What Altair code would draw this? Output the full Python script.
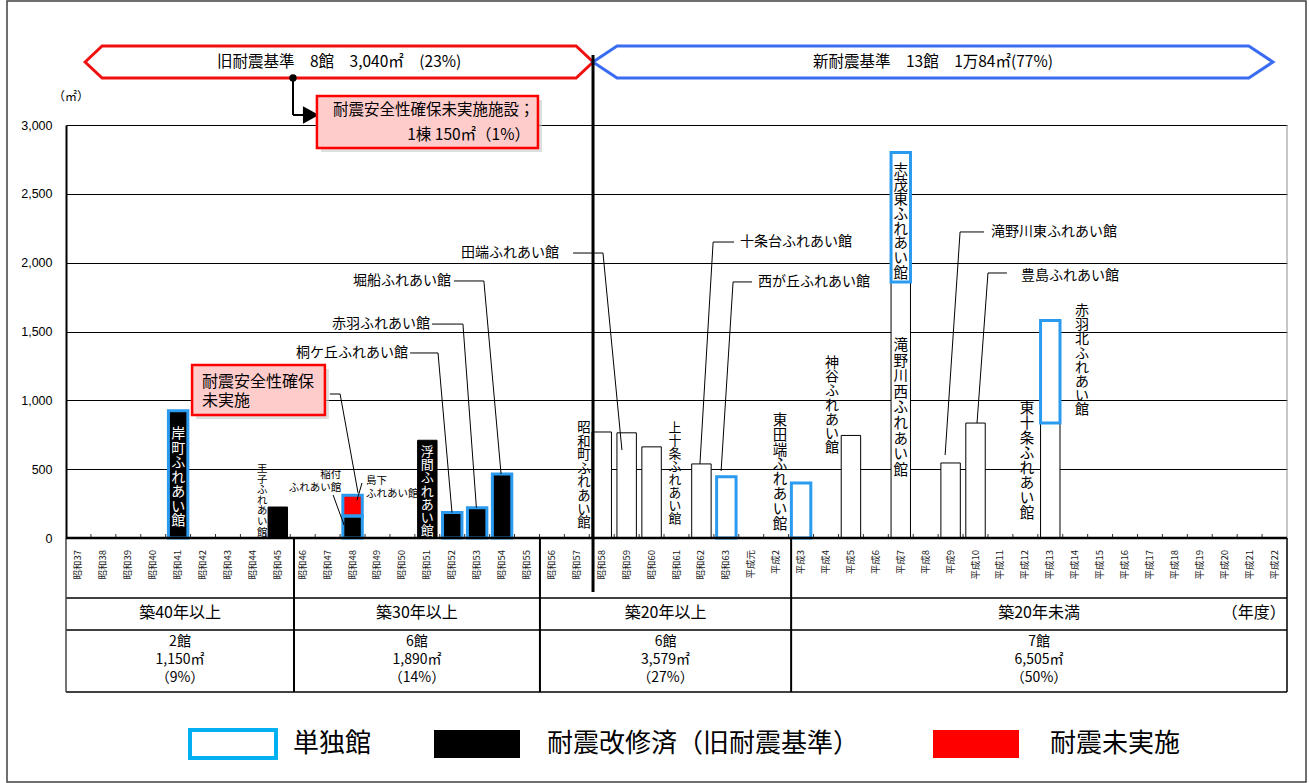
import altair as alt
import pandas as pd

# ---- data -------------------------------------------------------------------
# fiscal years along the x axis
years = [f"昭和{n}" for n in range(37, 64)] + ["平成元"] + [f"平成{n}" for n in range(2, 23)]

# ふれあい館: name, year built, floor area (㎡), seismic status, stand-alone building, age band
names = ["岸町", "王子", "稲付", "島下", "浮間", "桐ケ丘", "赤羽", "堀船",
         "昭和町", "田端", "上十条", "十条台", "西が丘", "東田端",
         "神谷", "滝野川西", "志茂東", "滝野川東", "豊島", "東十条", "赤羽北"]
built = ["昭和41", "昭和45", "昭和48", "昭和48", "昭和51", "昭和52", "昭和53", "昭和54",
         "昭和58", "昭和59", "昭和60", "昭和62", "昭和63", "平成3",
         "平成5", "平成7", "平成7", "平成9", "平成10", "平成13", "平成13"]
area = [925, 225, 160, 150, 710, 185, 220, 465,
        770, 764, 662, 538, 445, 400,
        745, 1860, 940, 545, 835, 835, 745]
status = ["改修済", "改修済", "改修済", "未実施", "改修済", "改修済", "改修済", "改修済",
          "新耐震", "新耐震", "新耐震", "新耐震", "新耐震", "新耐震",
          "新耐震", "新耐震", "新耐震", "新耐震", "新耐震", "新耐震", "新耐震"]
standalone = [True, False, True, True, False, True, True, True,
              False, False, False, False, True, True,
              False, False, True, False, False, False, True]
age_group = ["築40年以上"] * 2 + ["築30年以上"] * 6 + ["築20年以上"] * 6 + ["築20年未満"] * 7

groups = ["築40年以上", "築30年以上", "築20年以上", "築20年未満"]
y_ticks = [0, 500, 1000, 1500, 2000, 2500, 3000]
legend_labels = ["単独館", "耐震改修済（旧耐震基準）", "耐震未実施"]

# ---- layout / style ---------------------------------------------------------
W, H = 1221, 413
FONT = "Noto Sans CJK JP"
BLUE = "#2B9BF0"
LEGEND_BLUE = "#00B0F0"
RED = "#FF0000"
PINK = "#FFCCCC"
SHADOW = "#C8C8C8"

xs = alt.Scale(domain=[0, len(years)], nice=False, zero=False)
ys = alt.Scale(domain=[0, 3000], nice=False)
yaxis = alt.Axis(values=y_ticks, labelExpr="format(datum.value, ',')", title=None,
                 ticks=False, grid=True, gridColor="black", gridWidth=1,
                 domainColor="black", domainWidth=2,
                 labelFont="Liberation Sans", labelFontSize=12.5, labelColor="black",
                 labelPadding=14)

one = pd.DataFrame({"k": [0]})


def XD(v):
    return alt.XDatum(v, scale=xs, axis=None)


def YD(v):
    return alt.YDatum(v, scale=ys, axis=yaxis)


def pin():
    return alt.Chart(one)


layers = []

# ---- bars -------------------------------------------------------------------
fac = pd.DataFrame({"name": names, "year": built, "area": area, "status": status,
                    "alone": standalone, "group": age_group})
fac["pos"] = fac["year"].map(lambda y: years.index(y) + 0.5)
fac["top"] = fac.groupby("year")["area"].cumsum()
fac["base"] = fac["top"] - fac["area"]
fac["left"] = fac["pos"] - 0.39
fac["right"] = fac["pos"] + 0.39

status_domain = ["改修済", "未実施", "新耐震"]
bar_enc = dict(
    x=alt.X("left:Q", scale=xs, axis=None),
    x2="right:Q",
    y=alt.Y("base:Q", scale=ys, axis=yaxis),
    y2="top:Q",
)
layers.append(
    alt.Chart(fac).mark_rect(strokeWidth=1).encode(
        fill=alt.Fill("status:N", scale=alt.Scale(domain=status_domain,
                                                  range=["#000000", RED, "#FFFFFF"]), legend=None),
        stroke=alt.Stroke("status:N", scale=alt.Scale(domain=status_domain,
                                                      range=["#000000", RED, "#000000"]), legend=None),
        **bar_enc,
    )
)
# stand-alone buildings get a blue outline
layers.append(
    alt.Chart(fac[fac["alone"]]).mark_rect(fillOpacity=0, stroke=BLUE, strokeWidth=3).encode(**bar_enc)
)

# ---- x axis line, category ticks and year labels ----------------------------
bounds = pd.DataFrame({"b": list(range(1, len(years)))})
layers.append(
    alt.Chart(bounds).mark_rule(color="#333333", strokeWidth=1).encode(
        x=alt.X("b:Q", scale=xs, axis=None), y=alt.value(H - 4), y2=alt.value(H))
)
yl = pd.DataFrame({"year": years, "pos": [i + 0.5 for i in range(len(years))]})
layers.append(
    alt.Chart(yl).mark_text(angle=270, align="right", baseline="middle", fontSize=9.5,
                            font=FONT, color="#222222").encode(
        x=alt.X("pos:Q", scale=xs, axis=None), y=alt.value(H + 12), text="year:N")
)

# ---- table below the plot ---------------------------------------------------
dividers = [0, 9.15, 19.02, 29.1, len(years)]
for yy in [H + 60, H + 92, H + 154]:
    layers.append(pin().mark_rule(color="black", strokeWidth=1.5).encode(
        x=XD(0), x2=alt.X2Datum(len(years)), y=alt.value(yy)))
for d in dividers[1:-1]:
    layers.append(pin().mark_rule(color="black", strokeWidth=2).encode(
        x=XD(d), y=alt.value(H), y2=alt.value(H + 154)))
layers.append(pin().mark_rule(color="#444444", strokeWidth=1.5).encode(
    x=XD(0), y=alt.value(H), y2=alt.value(H + 154)))
layers.append(pin().mark_rule(color="#909090", strokeWidth=1).encode(
    x=XD(len(years)), y=alt.value(0), y2=alt.value(H)))
layers.append(pin().mark_rule(color="black", strokeWidth=1.5).encode(
    x=XD(len(years)), y=alt.value(H), y2=alt.value(H + 154)))
layers.append(pin().mark_rule(color="black", strokeWidth=2.5).encode(
    x=XD(0), x2=alt.X2Datum(len(years)), y=alt.value(H)))

summary = fac.groupby("group", sort=False).agg(n=("name", "count"), total=("area", "sum")).reindex(groups)
grand = int(summary["total"].sum())
tbl = pd.DataFrame({
    "group": groups,
    "center": [(dividers[i] + dividers[i + 1]) / 2 for i in range(len(groups))],
    "info": [f"{int(r.n)}館\n{int(r.total):,}㎡\n（{round(100 * r.total / grand)}%）"
             for r in summary.itertuples()],
})
layers.append(
    alt.Chart(tbl).mark_text(fontSize=16, font=FONT, color="black", baseline="middle").encode(
        x=alt.X("center:Q", scale=xs, axis=None), y=alt.value(H + 75), text="group:N")
)
layers.append(
    alt.Chart(tbl).mark_text(fontSize=14, font=FONT, color="black", baseline="top",
                             lineBreak="\n", lineHeight=18).encode(
        x=alt.X("center:Q", scale=xs, axis=None), y=alt.value(H + 97), text="info:N")
)
layers.append(pin().mark_text(text="（年度）", fontSize=16, font=FONT, color="black",
                              align="right", baseline="middle").encode(
    x=XD(48.95), y=alt.value(H + 75)))

# ---- names written vertically ----------------------------------------------
vert_specs = [
    ("岸町", 4.5, 806, 14, 14.5, "white"),
    ("王子", 7.87, 537, 10.4, 10.6, "black"),
    ("浮間", 14.5, 668, 13, 13.2, "white"),
    ("昭和町", 20.79, 850, 13.4, 13.6, "black"),
    ("上十条", 24.44, 843, 12.8, 13.0, "black"),
    ("東田端", 28.65, 901, 14.5, 14.8, "black"),
    ("神谷", 30.74, 1322, 14, 14.2, "black"),
    ("滝野川西", 33.5, 1445, 14.5, 15.6, "black"),
    ("志茂東", 33.5, 2717, 14.5, 14.7, "black"),
    ("東十条", 38.57, 988, 14.5, 15.0, "black"),
    ("赤羽北", 40.77, 1700, 14, 14.2, "black"),
]
for nm, vx, vy, fs, lh, col in vert_specs:
    layers.append(pin().mark_text(text="\n".join(nm + "ふれあい館"), lineBreak="\n",
                                  lineHeight=lh, fontSize=fs, font=FONT, color=col,
                                  align="center", baseline="top").encode(x=XD(vx), y=YD(vy)))

# ---- names with leader lines -----------------------------------------------
hl = pd.DataFrame({
    "name": ["桐ケ丘", "赤羽", "堀船", "田端", "十条台", "西が丘", "滝野川東", "豊島"],
    "lx": [13.72, 14.61, 15.45, 19.78, 27.05, 27.77, 37.12, 38.33],
    "ly": [1344, 1554, 1867, 2070, 2150, 1860, 2223, 1905],
    "side": ["right"] * 4 + ["left"] * 4,
})
hl["label"] = hl["name"] + "ふれあい館"
for side in ["right", "left"]:
    layers.append(
        alt.Chart(hl[hl["side"] == side]).mark_text(align=side, baseline="middle", fontSize=14,
                                                    font=FONT, color="black").encode(
            x=alt.X("lx:Q", scale=xs, axis=None), y=alt.Y("ly:Q", scale=ys, axis=yaxis),
            text="label:N")
    )

small_specs = [("稲付", 11.05, 497, "right"), ("島下", 12.04, 447, "left")]
for nm, sx, sy, side in small_specs:
    layers.append(pin().mark_text(text=nm + "\nふれあい館", lineBreak="\n", lineHeight=13,
                                  fontSize=10.5, font=FONT, color="black", align=side,
                                  baseline="top").encode(x=XD(sx), y=YD(sy)))

leader_paths = {
    "桐ケ丘": [(13.81, 1344), (14.93, 1344), (15.49, 185)],
    "赤羽": [(14.69, 1554), (15.93, 1554), (16.47, 220)],
    "堀船": [(15.57, 1867), (16.77, 1867), (17.46, 465)],
    "田端": [(20.35, 2070), (21.55, 2070), (22.31, 639)],
    "十条台": [(26.81, 2150), (25.97, 2150), (25.44, 538)],
    "西が丘": [(27.53, 1860), (26.77, 1860), (26.29, 487)],
    "滝野川東": [(36.84, 2223), (35.88, 2223), (35.28, 603)],
    "豊島": [(37.76, 1925), (37.0, 1925), (36.56, 835)],
    "稲付": [(10.72, 312), (11.16, 94)],
    "島下": [(11.88, 400), (11.68, 276)],
    "未実施": [(10.59, 1046), (11.0, 1046), (11.72, 327)],
}
lead = pd.DataFrame([{"id": k, "order": i, "x": px, "y": py}
                     for k, pts in leader_paths.items() for i, (px, py) in enumerate(pts)])
layers.append(
    alt.Chart(lead).mark_line(color="black", strokeWidth=1).encode(
        x=alt.X("x:Q", scale=xs, axis=None), y=alt.Y("y:Q", scale=ys, axis=yaxis),
        detail="id:N", order="order:Q")
)

# ---- callout: 耐震安全性確保未実施 (inside the plot) -------------------------
layers.append(pin().mark_rect(fill=SHADOW, opacity=0.6).encode(
    x=XD(5.22), x2=alt.X2Datum(10.55), y=YD(1228), y2=alt.Y2Datum(864)))
layers.append(pin().mark_rect(fill=PINK, stroke=RED, strokeWidth=2.5).encode(
    x=XD(5.06), x2=alt.X2Datum(10.39), y=YD(1257), y2=alt.Y2Datum(893)))
layers.append(pin().mark_text(text="耐震安全性確保\n未実施", lineBreak="\n", lineHeight=18.5,
                              fontSize=16, font=FONT, color="black", align="left",
                              baseline="top").encode(x=XD(5.46), y=YD(1191)))

# ---- header arrows: old / new seismic standard ------------------------------
red_part = fac.loc[fac["status"] == "未実施", "area"]
old = fac[fac["status"] != "新耐震"]
new = fac[fac["status"] == "新耐震"]
old_total, new_total = int(old["area"].sum()), int(new["area"].sum())
old_text = f"旧耐震基準　{len(old)}館　{old_total:,}㎡　({round(100 * old_total / grand)}%)"
new_text = (f"新耐震基準　{len(new)}館　{new_total // 10000}万{new_total % 10000}㎡"
            f"({round(100 * new_total / grand)}%)")

RED_HEX = "M-1,0L-0.933,-0.063L0.933,-0.063L1,0L0.933,0.063L-0.933,0.063Z"
BLUE_HEX = "M-1,0L-0.929,-0.047L0.929,-0.047L1,0L0.929,0.047L-0.929,0.047Z"
layers.append(pin().mark_point(shape=RED_HEX, size=508 ** 2, filled=True, fill="white",
                               stroke="#F01010", strokeWidth=3, opacity=1).encode(
    x=XD(10.96), y=alt.value(-63)))
layers.append(pin().mark_point(shape=BLUE_HEX, size=680 ** 2, filled=True, fill="white",
                               stroke="#3A6CF2", strokeWidth=3, opacity=1).encode(
    x=XD(34.79), y=alt.value(-63)))
layers.append(pin().mark_text(text=old_text, fontSize=15.5, font=FONT, color="black",
                              baseline="middle").encode(x=XD(10.96), y=alt.value(-63)))
layers.append(pin().mark_text(text=new_text, fontSize=15.5, font=FONT, color="black",
                              baseline="middle").encode(x=XD(34.79), y=alt.value(-63)))

# dividing line between the old and new standard
layers.append(pin().mark_rule(color="black", strokeWidth=3).encode(
    x=XD(21.15), y=alt.value(-70), y2=alt.value(H + 54)))

# ---- callout: 耐震安全性確保未実施施設 (above the plot) -----------------------
layers.append(pin().mark_point(shape="circle", filled=True, color="black", size=55,
                               opacity=1).encode(x=XD(9.11), y=alt.value(-47)))
layers.append(pin().mark_rule(color="black", strokeWidth=2).encode(
    x=XD(9.11), y=alt.value(-47), y2=alt.value(-10)))
layers.append(pin().mark_rule(color="black", strokeWidth=2).encode(
    x=XD(9.11), x2=alt.X2Datum(9.6), y=alt.value(-10)))
layers.append(pin().mark_point(shape="M-1,-1.1L1,0L-1,1.1Z", size=256, filled=True,
                               color="black", opacity=1).encode(x=XD(9.83), y=alt.value(-10)))
layers.append(pin().mark_rect(fill=SHADOW, opacity=0.6).encode(
    x=XD(10.23), x2=alt.X2Datum(19.1), y=alt.value(-25), y2=alt.value(27)))
layers.append(pin().mark_rect(fill=PINK, stroke=RED, strokeWidth=2.5).encode(
    x=XD(10.07), x2=alt.X2Datum(18.94), y=alt.value(-29), y2=alt.value(23)))
layers.append(pin().mark_text(text="耐震安全性確保未実施施設；", fontSize=15.5, font=FONT,
                              color="black", align="right", baseline="middle").encode(
    x=XD(18.8), y=alt.value(-15)))
layers.append(pin().mark_text(
    text=f"{len(red_part)}棟  {int(red_part.sum()):,}㎡（{round(100 * red_part.sum() / grand)}%）",
    fontSize=15.5, font=FONT, color="black", align="right", baseline="middle").encode(
    x=XD(18.62), y=alt.value(10)))

# unit label of the y axis
layers.append(pin().mark_text(text="（㎡）", fontSize=12, font=FONT, color="black",
                              baseline="middle").encode(x=alt.value(5), y=alt.value(-28)))

# ---- legend -----------------------------------------------------------------
legend_fill = ["white", "black", RED]
legend_stroke = [LEGEND_BLUE, "black", RED]
legend_stroke_w = [4, 0, 0]
legend_box_x = [124, 368, 867]
legend_text_x = [227, 481, 984]
for lab, f, s, sw, bx, tx in zip(legend_labels, legend_fill, legend_stroke, legend_stroke_w,
                                 legend_box_x, legend_text_x):
    layers.append(pin().mark_rect(fill=f, stroke=s, strokeWidth=sw).encode(
        x=alt.value(bx), x2=alt.value(bx + 86), y=alt.value(H + 192), y2=alt.value(H + 220)))
    layers.append(pin().mark_text(text=lab, fontSize=26, font=FONT, color="black",
                                  align="left", baseline="middle").encode(
        x=alt.value(tx), y=alt.value(H + 206)))

# outer frame
layers.append(pin().mark_rect(fillOpacity=0, stroke="#404040", strokeWidth=1.5).encode(
    x=alt.value(-59), x2=alt.value(1240), y=alt.value(-124), y2=alt.value(657)))

chart = alt.layer(*layers).properties(
    width=W, height=H,
    autosize=alt.AutoSizeParams(type="none"),
    padding={"left": 66, "top": 125, "right": 1309 - 66 - W, "bottom": 783 - 125 - H},
    background="white",
).configure_view(stroke=None)

chart.save("out.html", embed_options={"renderer": "svg", "actions": False})
